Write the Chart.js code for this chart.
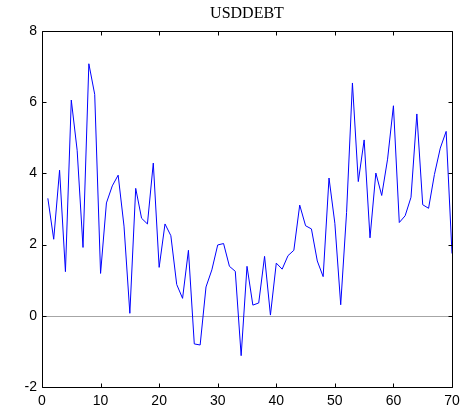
<!DOCTYPE html>
<html>
<head>
<meta charset="utf-8">
<script src="https://cdn.jsdelivr.net/npm/chart.js@4/dist/chart.umd.min.js"></script>
<style>
  html, body { margin: 0; padding: 0; background: #fff; }
  #wrap { width: 467px; height: 412px; }
</style>
</head>
<body>
<div id="wrap"><canvas id="c" width="467" height="412"></canvas></div>
<script>
// Series title and axis ranges
const chartTitle = "USDDEBT";
const xTicks = [0, 10, 20, 30, 40, 50, 60, 70];
const yTicks = [-2, 0, 2, 4, 6, 8];

// Observation index 1..70
const periods = [
   1,  2,  3,  4,  5,  6,  7,  8,  9, 10,
  11, 12, 13, 14, 15, 16, 17, 18, 19, 20,
  21, 22, 23, 24, 25, 26, 27, 28, 29, 30,
  31, 32, 33, 34, 35, 36, 37, 38, 39, 40,
  41, 42, 43, 44, 45, 46, 47, 48, 49, 50,
  51, 52, 53, 54, 55, 56, 57, 58, 59, 60,
  61, 62, 63, 64, 65, 66, 67, 68, 69, 70
];

// USDDEBT values
const usddebt = [
  3.30, 2.15, 4.09, 1.24, 6.06, 4.65, 1.92, 7.08, 6.22, 1.19,
  3.17, 3.65, 3.95, 2.52, 0.07, 3.58, 2.74, 2.58, 4.29, 1.36,
  2.58, 2.25, 0.88, 0.49, 1.84, -0.79, -0.82, 0.81, 1.29, 1.99,
  2.03, 1.39, 1.25, -1.12, 1.39, 0.30, 0.36, 1.67, 0.02, 1.48,
  1.31, 1.69, 1.84, 3.11, 2.53, 2.44, 1.54, 1.10, 3.87, 2.60,
  0.31, 2.90, 6.54, 3.77, 4.94, 2.19, 4.01, 3.38, 4.40, 5.90,
  2.62, 2.81, 3.33, 5.67, 3.12, 3.02, 3.97, 4.71, 5.18, 1.75
];

const tickFont = { family: "'Liberation Sans', Arial, sans-serif", size: 14 };

// Box frame, inward tick marks, zero reference line and the title
const framePlugin = {
  id: 'frame',
  beforeDatasetsDraw(chart) {
    const { ctx, chartArea: a, scales: { y } } = chart;
    const y0 = Math.round(y.getPixelForValue(0)) + 0.5;
    ctx.save();
    ctx.strokeStyle = '#a6a6a6';
    ctx.lineWidth = 1;
    ctx.beginPath();
    ctx.moveTo(a.left, y0);
    ctx.lineTo(a.right, y0);
    ctx.stroke();
    ctx.restore();
  },
  afterDraw(chart) {
    const { ctx, chartArea: a, scales: { x, y } } = chart;
    const L = Math.round(a.left) + 0.5, R = Math.round(a.right) + 0.5;
    const T = Math.round(a.top) + 0.5, B = Math.round(a.bottom) + 0.5;
    const len = 4;
    ctx.save();
    ctx.strokeStyle = '#000';
    ctx.lineWidth = 1;
    ctx.beginPath();
    ctx.rect(L, T, R - L, B - T);
    xTicks.forEach(v => {
      const px = Math.round(x.getPixelForValue(v)) + 0.5;
      ctx.moveTo(px, B); ctx.lineTo(px, B - len);
      ctx.moveTo(px, T); ctx.lineTo(px, T + len);
    });
    yTicks.forEach(v => {
      const py = Math.round(y.getPixelForValue(v)) + 0.5;
      ctx.moveTo(L, py); ctx.lineTo(L + len, py);
      ctx.moveTo(R, py); ctx.lineTo(R - len, py);
    });
    ctx.stroke();

    ctx.fillStyle = '#000';
    ctx.font = "16px 'Liberation Serif', 'Times New Roman', serif";
    ctx.textAlign = 'center';
    ctx.textBaseline = 'middle';
    ctx.fillText(chartTitle, (a.left + a.right) / 2, 14);
    ctx.restore();
  }
};

new Chart(document.getElementById('c'), {
  type: 'line',
  data: {
    labels: periods,
    datasets: [{
      label: chartTitle,
      data: periods.map((p, i) => ({ x: p, y: usddebt[i] })),
      borderColor: '#0000ff',
      borderWidth: 1,
      pointRadius: 0,
      tension: 0,
      fill: false
    }]
  },
  options: {
    responsive: false,
    animation: false,
    layout: { padding: { top: 31, right: 15, left: 0, bottom: 0 } },
    plugins: {
      legend: { display: false },
      tooltip: { enabled: false },
      title: { display: false }
    },
    scales: {
      x: {
        type: 'linear',
        min: 0, max: 70,
        afterBuildTicks(scale) { scale.ticks = xTicks.map(v => ({ value: v })); },
        afterFit(scale) { scale.height = 25; },
        grid: { display: false, drawTicks: false },
        border: { display: false },
        ticks: { color: '#000', font: tickFont, padding: 6, maxRotation: 0 }
      },
      y: {
        type: 'linear',
        min: -2, max: 8,
        afterBuildTicks(scale) { scale.ticks = yTicks.map(v => ({ value: v })); },
        afterFit(scale) { scale.width = 42; },
        grid: { display: false, drawTicks: false },
        border: { display: false },
        ticks: { color: '#000', font: tickFont, padding: 5 }
      }
    }
  },
  plugins: [framePlugin]
});
</script>
</body>
</html>
